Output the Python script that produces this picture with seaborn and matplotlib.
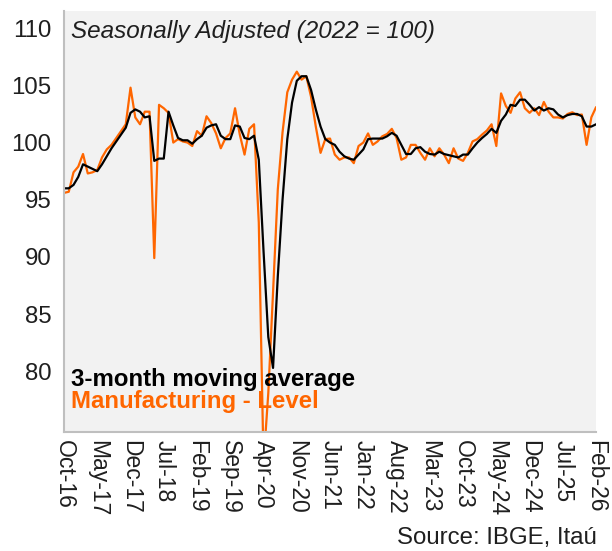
import numpy as np
import pandas as pd
import matplotlib
matplotlib.use("Agg")
import matplotlib.pyplot as plt
import seaborn as sns

tick_labels = ["Oct-16", "May-17", "Dec-17", "Jul-18", "Feb-19", "Sep-19", "Apr-20",
               "Nov-20", "Jun-21", "Jan-22", "Aug-22", "Mar-23", "Oct-23", "May-24",
               "Dec-24", "Jul-25", "Feb-26"]

manufacturing = [
    95.6, 95.7, 97.4, 97.9, 99.0, 97.3, 97.4, 97.6, 98.7, 99.4,
    99.8, 100.4, 101.0, 101.6, 104.8, 102.2, 101.6, 102.7, 102.7, 89.9,
    103.3, 103.0, 102.6, 100.0, 100.3, 100.1, 100.0, 99.7, 101.0, 100.6,
    102.3, 101.7, 100.8, 99.5, 100.4, 100.8, 103.0, 100.7, 98.95, 101.2,
    101.6, 93.0, 72.0, 78.1, 86.9, 95.9, 100.9, 104.4, 105.5, 106.2,
    105.5, 105.8, 104.0, 101.4, 99.1, 100.3, 100.35, 98.95, 98.5, 98.7,
    98.7, 98.2, 99.7, 100.0, 100.8, 99.8, 100.1, 100.55, 100.75, 101.2,
    100.4, 98.5, 98.7, 99.8, 99.8, 99.1, 98.5, 99.5, 98.8, 99.5,
    98.95, 98.2, 99.5, 98.6, 98.4, 99.1, 100.1, 100.3, 100.7, 101.05,
    101.6, 99.7, 104.3, 103.2, 102.6, 103.85, 104.4, 103.0, 102.6, 103.0,
    102.4, 103.55, 102.7, 102.2, 102.2, 102.1, 102.5, 102.65, 102.4, 102.45,
    99.8, 102.2, 103.1,
]

moving_avg = [
    96.0, 96.0, 96.3, 97.0, 98.1, 97.9, 97.7, 97.5, 98.1, 98.8,
    99.5, 100.1, 100.7, 101.3, 102.6, 102.9, 102.7, 102.2, 102.3, 98.4,
    98.6, 98.6, 102.7, 101.5, 100.4, 100.2, 100.2, 99.9, 100.3, 100.6,
    101.3, 101.5, 101.6, 100.6, 100.3, 100.3, 101.5, 101.4, 100.4, 100.3,
    100.6, 98.5, 90.5, 83.0, 80.3, 88.3, 95.0, 100.3, 103.5, 105.4,
    105.8, 105.8, 104.6, 102.9, 101.4, 100.3, 100.0, 99.8, 99.2, 98.8,
    98.6, 98.5, 98.95, 99.4, 100.3, 100.35, 100.35, 100.35, 100.55, 100.85,
    100.6, 99.8, 99.0, 99.0, 99.5, 99.6, 99.2, 99.0, 98.95, 99.2,
    99.0, 98.9, 98.8, 98.7, 98.95, 98.95, 99.5, 100.0, 100.4, 100.75,
    101.2, 100.85, 101.9, 102.45, 103.3, 103.2, 103.75, 103.75, 103.3, 102.8,
    103.1, 102.8, 103.0, 102.9, 102.45, 102.2, 102.4, 102.5, 102.5, 102.3,
    101.4, 101.4, 101.6,
]

y_ticks = [80, 85, 90, 95, 100, 105, 110]

sns.set_style("white")
plt.rcParams["font.family"] = ["Liberation Sans", "DejaVu Sans"]

ORANGE = "#FF6600"
TEXT = "#1F1F1F"
months = np.arange(len(manufacturing))
df = pd.DataFrame({"month": months, "manufacturing": manufacturing, "ma": moving_avg})

fig = plt.figure(figsize=(6.12, 5.51), dpi=100)
ax = fig.add_axes([0.1046, 0.216, 0.8694, 0.764])
ax.set_facecolor("#F2F2F2")

sns.lineplot(data=df, x="month", y="manufacturing", ax=ax, color=ORANGE, linewidth=1.6)
sns.lineplot(data=df, x="month", y="ma", ax=ax, color="black", linewidth=1.6)

ax.set_xlim(0, len(manufacturing) - 1)
ax.set_ylim(74.7, 111.5)
ax.set_yticks(y_ticks)
ax.set_yticklabels([str(v) for v in y_ticks], fontsize=17.3, color=TEXT)
ax.set_xticks(np.arange(0, len(manufacturing), 7))
ax.set_xticklabels(tick_labels, rotation=-90, fontsize=16.5, color=TEXT, va="top", ha="center")
ax.tick_params(axis="x", length=0, pad=6)
ax.tick_params(axis="y", length=0, pad=9)
ax.set_xlabel("")
ax.set_ylabel("")

for side in ["top", "right"]:
    ax.spines[side].set_visible(False)
for side in ["left", "bottom"]:
    ax.spines[side].set_color("#BFBFBF")
    ax.spines[side].set_linewidth(1.5)

ax.text(0.013, 0.978, "Seasonally Adjusted (2022 = 100)", transform=ax.transAxes,
        fontsize=17.5, style="italic", color=TEXT, va="top", ha="left")
ax.text(0.013, 0.125, "3-month moving average", transform=ax.transAxes,
        fontsize=17.3, fontweight="bold", color="black", va="center", ha="left")
ax.text(0.013, 0.072, "Manufacturing - Level", transform=ax.transAxes,
        fontsize=17.3, fontweight="bold", color=ORANGE, va="center", ha="left")

fig.text(0.975, 0.023, "Source: IBGE, Itaú", fontsize=17.3, color=TEXT, ha="right", va="center")

fig.savefig("out.png", dpi=100, facecolor="white")
